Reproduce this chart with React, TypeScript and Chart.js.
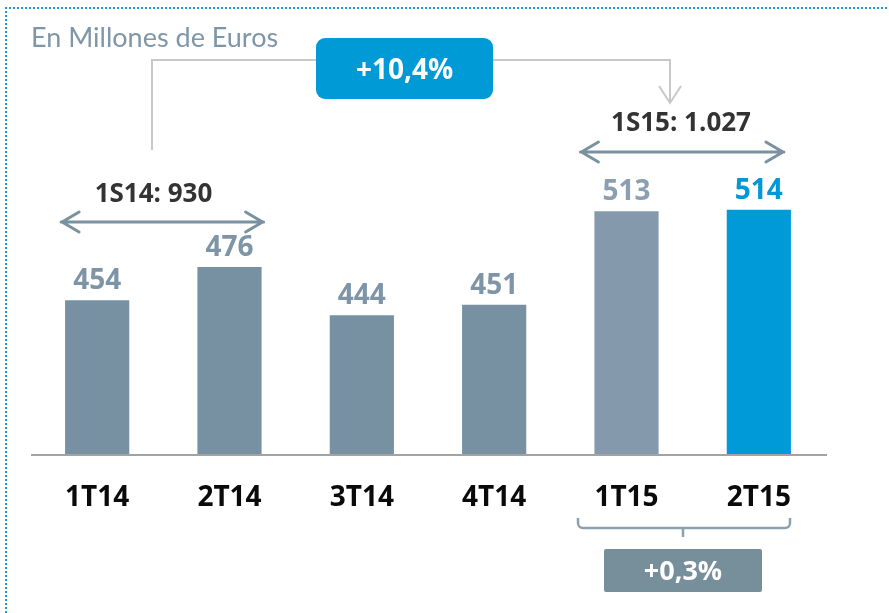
import React, { useEffect, useRef } from "react";
import { Chart, registerables } from "chart.js";

Chart.register(...registerables);

// ---- data ----
const categories = ["1T14", "2T14", "3T14", "4T14", "1T15", "2T15"];
const values = [454, 476, 444, 451, 513, 514];
const barColors = ["#7790A2", "#7790A2", "#7790A2", "#7790A2", "#8499AB", "#009AD8"];
const valueLabelColors = ["#7E95A7", "#7E95A7", "#7E95A7", "#7E95A7", "#8AA0B2", "#0099D8"];
const titleText = "En Millones de Euros";
const half14Label = "1S14: 930";
const half15Label = "1S15: 1.027";
const yoyLabel = "+10,4%";
const qoqLabel = "+0,3%";

const FONT = "Lato, 'Open Sans', 'DejaVu Sans', sans-serif";
const BOLD = "'Open Sans', Lato, 'DejaVu Sans', sans-serif";

function roundRect(ctx: CanvasRenderingContext2D, x: number, y: number, w: number, h: number, r: number) {
  ctx.beginPath();
  ctx.moveTo(x + r, y);
  ctx.lineTo(x + w - r, y);
  ctx.arcTo(x + w, y, x + w, y + r, r);
  ctx.lineTo(x + w, y + h - r);
  ctx.arcTo(x + w, y + h, x + w - r, y + h, r);
  ctx.lineTo(x + r, y + h);
  ctx.arcTo(x, y + h, x, y + h - r, r);
  ctx.lineTo(x, y + r);
  ctx.arcTo(x, y, x + r, y, r);
  ctx.closePath();
}

function doubleArrow(ctx: CanvasRenderingContext2D, x1: number, x2: number, y: number) {
  ctx.save();
  ctx.strokeStyle = "#7A919F";
  ctx.lineWidth = 3;
  ctx.lineCap = "round";
  ctx.lineJoin = "round";
  ctx.beginPath();
  ctx.moveTo(x1, y);
  ctx.lineTo(x2, y);
  ctx.moveTo(x1 + 18, y - 10);
  ctx.lineTo(x1 + 1, y);
  ctx.lineTo(x1 + 18, y + 10);
  ctx.moveTo(x2 - 18, y - 10);
  ctx.lineTo(x2 - 1, y);
  ctx.lineTo(x2 - 18, y + 10);
  ctx.stroke();
  ctx.restore();
}

const decorPlugin = {
  id: "decor",
  afterDatasetsDraw(chart: any) {
    const ctx: CanvasRenderingContext2D = chart.ctx;
    const area = chart.chartArea;
    const xScale = chart.scales.x;
    const meta = chart.getDatasetMeta(0);
    ctx.save();

    // dotted frame
    ctx.strokeStyle = "#1E9AD6";
    ctx.lineWidth = 2;
    ctx.setLineDash([2, 2]);
    ctx.beginPath();
    ctx.moveTo(6, 613);
    ctx.lineTo(6, 8);
    ctx.lineTo(889, 8);
    ctx.stroke();
    ctx.setLineDash([]);

    // title
    ctx.fillStyle = "#7F96A8";
    ctx.font = `400 27px ${FONT}`;
    ctx.textAlign = "left";
    ctx.textBaseline = "alphabetic";
    ctx.fillText(titleText, 31, 47);

    // axis line
    ctx.strokeStyle = "#A3A3A3";
    ctx.lineWidth = 2;
    ctx.beginPath();
    ctx.moveTo(area.left, area.bottom + 1);
    ctx.lineTo(area.right + 2, area.bottom + 1);
    ctx.stroke();

    // value labels + category labels
    ctx.textAlign = "center";
    meta.data.forEach((bar: any, i: number) => {
      ctx.fillStyle = valueLabelColors[i];
      ctx.font = `700 28px ${BOLD}`;
      ctx.fillText(String(values[i]), bar.x, bar.y - 11);
      ctx.fillStyle = "#0A0A0A";
      ctx.font = `700 28px ${BOLD}`;
      ctx.fillText(categories[i], xScale.getPixelForValue(i), 506);
    });

    // half-year arrows
    const b0 = meta.data[0], b1 = meta.data[1], b4 = meta.data[4], b5 = meta.data[5];
    doubleArrow(ctx, b0.x - b0.width / 2 - 4, b1.x + b1.width / 2 + 2, 222);
    doubleArrow(ctx, b4.x - b4.width / 2 - 14, b5.x + b5.width / 2 - 7, 152);
    ctx.fillStyle = "#333333";
    ctx.font = `700 26px ${BOLD}`;
    ctx.fillText(half14Label, 153.5, 202);
    ctx.fillText(half15Label, 681, 131);

    // connector
    ctx.strokeStyle = "#C8C8C8";
    ctx.lineWidth = 2;
    ctx.beginPath();
    ctx.moveTo(152, 150);
    ctx.lineTo(152, 60);
    ctx.lineTo(320, 60);
    ctx.moveTo(490, 60);
    ctx.lineTo(670, 60);
    ctx.lineTo(670, 103);
    ctx.moveTo(659, 86);
    ctx.lineTo(670, 103);
    ctx.lineTo(681, 86);
    ctx.stroke();

    // +10,4% box
    ctx.fillStyle = "#009AD7";
    roundRect(ctx, 316, 38, 177, 61, 9);
    ctx.fill();
    ctx.fillStyle = "#FFFFFF";
    ctx.font = `700 28px ${BOLD}`;
    ctx.textBaseline = "middle";
    ctx.fillText(yoyLabel, 404.5, 71);

    // brace
    ctx.strokeStyle = "#8CA0AD";
    ctx.lineWidth = 2.5;
    ctx.lineJoin = "round";
    ctx.beginPath();
    ctx.moveTo(578, 518);
    ctx.lineTo(578, 523);
    ctx.arcTo(578, 528, 584, 528, 5);
    ctx.lineTo(784, 528);
    ctx.arcTo(790, 528, 790, 522, 5);
    ctx.lineTo(790, 518);
    ctx.moveTo(683, 528);
    ctx.lineTo(683, 537);
    ctx.stroke();

    // +0,3% box
    ctx.fillStyle = "#778E9B";
    roundRect(ctx, 604, 549, 158, 43, 2);
    ctx.fill();
    ctx.fillStyle = "#FFFFFF";
    ctx.font = `700 27px ${BOLD}`;
    ctx.fillText(qoqLabel, 683, 572);

    ctx.restore();
  },
};

export default function App() {
  const canvasRef = useRef<HTMLCanvasElement | null>(null);

  useEffect(() => {
    if (!canvasRef.current) return;
    const chart = new Chart(canvasRef.current, {
      type: "bar",
      data: {
        labels: categories,
        datasets: [
          {
            data: values,
            backgroundColor: barColors,
            borderWidth: 0,
            categoryPercentage: 1,
            barPercentage: 0.485,
          },
        ],
      },
      options: {
        responsive: false,
        animation: false,
        events: [],
        layout: { padding: { left: 31, right: 64, top: 80, bottom: 159 } },
        plugins: { legend: { display: false }, tooltip: { enabled: false } },
        scales: {
          x: { display: false },
          y: { display: false, min: 352, max: 600 },
        },
      },
      plugins: [decorPlugin],
    });
    return () => chart.destroy();
  }, []);

  return (
    <div style={{ position: "absolute", left: 0, top: 0, width: 889, height: 613, background: "#fff" }}>
      <canvas ref={canvasRef} width={889} height={613} style={{ display: "block" }} />
    </div>
  );
}
